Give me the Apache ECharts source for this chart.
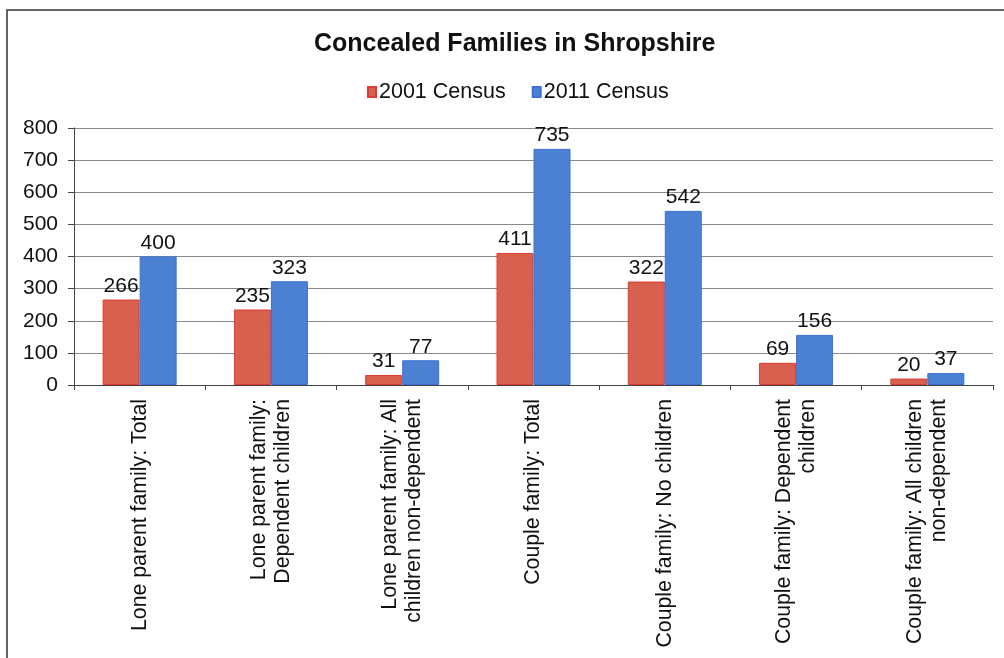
<!DOCTYPE html>
<html>
<head>
<meta charset="utf-8">
<style>
  html, body { margin: 0; padding: 0; background: #fff; }
  #chart { width: 1004px; height: 658px; }
</style>
<script src="https://cdn.jsdelivr.net/npm/echarts@6/dist/echarts.min.js"></script>
</head>
<body>
<div id="chart"></div>
<script>
// Concealed families by type, 2001 vs 2011 census
const categories = [
  'Lone parent family: Total',
  'Lone parent family:\nDependent children',
  'Lone parent family: All\nchildren non-dependent',
  'Couple family: Total',
  'Couple family: No children',
  'Couple family: Dependent\nchildren',
  'Couple family: All children\nnon-dependent'
];
const census2001 = [266, 235, 31, 411, 322, 69, 20];
const census2011 = [400, 323, 77, 735, 542, 156, 37];
const yTicks = [0, 100, 200, 300, 400, 500, 600, 700, 800];

const chart = echarts.init(document.getElementById('chart'));
const font = 'Liberation Sans, Arial, sans-serif';

const valueLabel = {
  show: true,
  position: 'top',
  distance: 3,
  fontSize: 21,
  fontFamily: font,
  color: '#111'
};

chart.setOption({
  animation: false,
  backgroundColor: '#fff',
  graphic: [{
    type: 'rect',
    shape: { x: 7, y: 10, width: 1010, height: 660 },
    style: { fill: 'none', stroke: '#333', lineWidth: 1.5 },
    silent: true
  }],
  title: {
    text: 'Concealed Families in Shropshire',
    left: 309,
    top: 27,
    textStyle: { fontFamily: font, fontSize: 25, fontWeight: 'bold', color: '#111' }
  },
  legend: {
    top: 76,
    left: 362,
    icon: 'rect',
    itemWidth: 8,
    itemHeight: 10,
    itemGap: 26,
    textStyle: { fontFamily: font, fontSize: 21.5, color: '#111', padding: [0, 0, 0, -2] },
    data: ['2001 Census', '2011 Census']
  },
  grid: { left: 74, right: 11, top: 128, bottom: 273, containLabel: false },
  xAxis: {
    type: 'category',
    data: categories,
    axisLine: { lineStyle: { color: '#444', width: 1 } },
    axisTick: { show: true, alignWithLabel: false, length: 5, lineStyle: { color: '#444' } },
    axisLabel: {
      rotate: 90,
      interval: 0,
      margin: 14,
      fontFamily: font,
      fontSize: 21.3,
      lineHeight: 24,
      align: 'right',
      color: '#111'
    }
  },
  yAxis: {
    type: 'value',
    min: 0,
    max: 800,
    interval: 100,
    axisLine: { show: true, lineStyle: { color: '#444', width: 1 } },
    axisTick: { show: true, length: 6, lineStyle: { color: '#444' } },
    axisLabel: {
      fontFamily: font,
      fontSize: 21,
      color: '#111',
      margin: 16,
      formatter: v => (yTicks.includes(v) ? String(v) : '')
    },
    splitLine: { lineStyle: { color: '#8a8a8a', width: 1 } }
  },
  series: [
    {
      name: '2001 Census',
      type: 'bar',
      data: census2001,
      barWidth: 37,
      barGap: '0%',
      itemStyle: { color: '#d8604e', borderColor: '#e03a32', borderWidth: 1 },
      label: valueLabel
    },
    {
      name: '2011 Census',
      type: 'bar',
      data: census2011,
      barWidth: 37,
      barGap: '0%',
      itemStyle: { color: '#4c80d2', borderColor: '#3b70d8', borderWidth: 1 },
      label: valueLabel
    }
  ]
});
</script>
</body>
</html>
